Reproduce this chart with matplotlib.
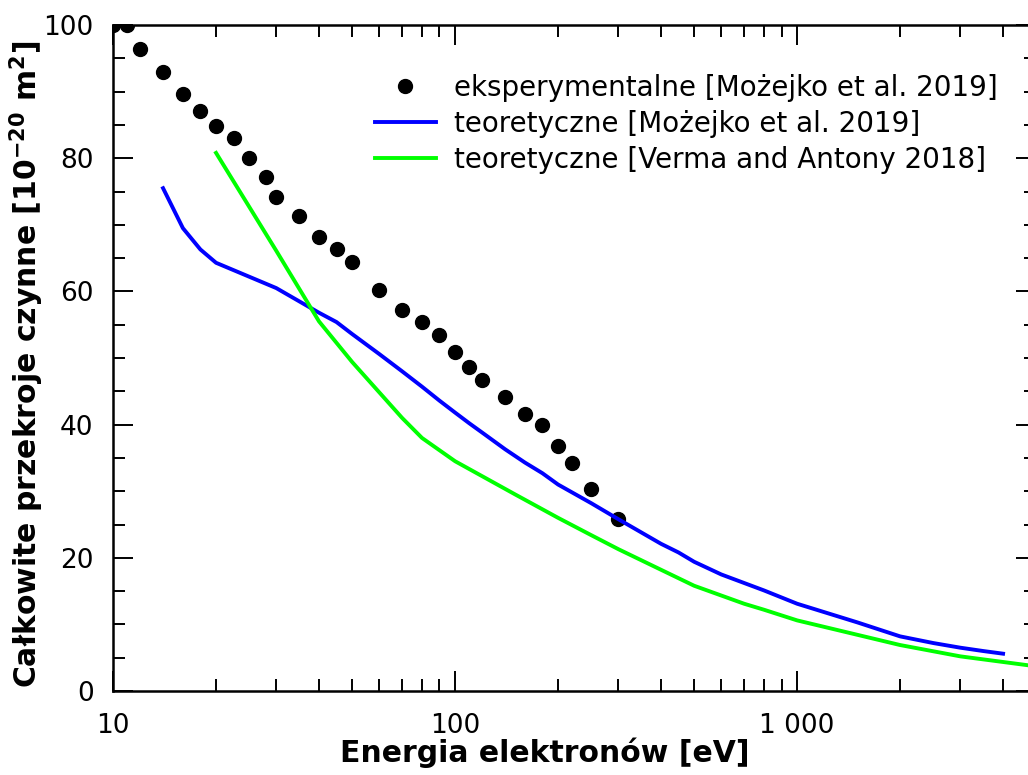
import numpy as np
import matplotlib
matplotlib.use("Agg")
import matplotlib.pyplot as plt
from matplotlib.ticker import FixedLocator, MultipleLocator, FuncFormatter

# eksperymentalne [Możejko et al. 2019]
exp_E = [10, 11, 12, 14, 16, 18, 20, 22.5, 25, 28, 30, 35, 40, 45, 50, 60, 70, 80,
         90, 100, 110, 120, 140, 160, 180, 200, 220, 250, 300]
exp_Q = [100.0, 100.0, 96.4, 92.9, 89.6, 87.1, 84.8, 83.0, 80.0, 77.2, 74.2, 71.3,
         68.2, 66.4, 64.4, 60.2, 57.2, 55.4, 53.5, 50.9, 48.6, 46.7, 44.1, 41.6,
         39.9, 36.8, 34.2, 30.3, 25.8]

# teoretyczne [Możejko et al. 2019]
moz_E = [14, 16, 18, 20, 30, 40, 45, 50, 60, 70, 80, 90, 100, 110, 120, 140, 160,
         180, 200, 250, 300, 400, 450, 500, 600, 800, 1000, 1500, 2000, 2500, 3000,
         3500, 4000]
moz_Q = [75.5, 69.5, 66.3, 64.3, 60.5, 56.8, 55.4, 53.6, 50.6, 48.0, 45.7, 43.6,
         41.8, 40.2, 38.8, 36.3, 34.3, 32.7, 31.0, 28.2, 25.8, 22.1, 20.8, 19.4,
         17.5, 15.1, 13.1, 10.3, 8.2, 7.2, 6.5, 6.0, 5.6]

# teoretyczne [Verma and Antony 2018]
ver_E = [20, 30, 40, 50, 70, 80, 100, 150, 200, 250, 300, 400, 500, 700, 800,
         1000, 2000, 3000, 5000]
ver_Q = [80.8, 66.1, 55.5, 49.4, 41.0, 38.0, 34.5, 29.5, 26.0, 23.4, 21.3, 18.2,
         15.8, 13.1, 12.2, 10.6, 6.9, 5.2, 3.7]

plt.rcParams['font.family'] = ['DejaVu Sans']

fig = plt.figure(figsize=(10.28, 7.75), dpi=100)
# right spine sits just past the image edge, as in the original
ax = fig.add_axes([0.110, 0.1084, 0.898, 0.8593])

ax.plot(exp_E, exp_Q, 'o', color='black', markersize=10,
        label='eksperymentalne [Możejko et al. 2019]')
ax.plot(moz_E, moz_Q, '-', color='#0000ff', linewidth=2.8,
        label='teoretyczne [Możejko et al. 2019]')
ax.plot(ver_E, ver_Q, '-', color='#00ff00', linewidth=2.8,
        label='teoretyczne [Verma and Antony 2018]')

ax.set_xscale('log')
ax.set_xlim(10, 5000)
ax.set_ylim(0, 100)

ax.xaxis.set_major_locator(FixedLocator([10, 100, 1000]))
ax.xaxis.set_minor_locator(FixedLocator([d * k for d in (10, 100, 1000) for k in range(2, 10)]))
ax.xaxis.set_major_formatter(FuncFormatter(lambda v, p: '{:,.0f}'.format(v).replace(',', ' ')))
ax.xaxis.set_minor_formatter(FuncFormatter(lambda v, p: ''))
ax.yaxis.set_major_locator(MultipleLocator(20))
ax.yaxis.set_minor_locator(MultipleLocator(5))

ax.tick_params(which='both', direction='in', top=True, right=True, width=1.4,
               labelsize=19, colors='black')
ax.tick_params(which='major', length=14.4)
ax.tick_params(which='minor', length=8.6)
ax.tick_params(axis='x', which='major', pad=16)
ax.tick_params(axis='y', which='major', pad=14)
for s in ax.spines.values():
    s.set_linewidth(1.8)

ax.set_xlabel('Energia elektronów [eV]', fontsize=21.5, fontweight='bold')
ax.set_ylabel('Całkowite przekroje czynne [10$^{\\mathbf{-20}}$ m$^{\\mathbf{2}}$]',
              fontsize=21.5, fontweight='bold')
ax.xaxis.set_label_coords(0.468, -0.070)
ax.yaxis.set_label_coords(-0.073, 0.49)

ax.legend(loc='upper right', frameon=False, fontsize=20, handlelength=2.2,
          handletextpad=0.65, labelspacing=0.29, borderaxespad=0,
          bbox_to_anchor=(0.97, 0.943))

fig.savefig('out.png', dpi=100)
